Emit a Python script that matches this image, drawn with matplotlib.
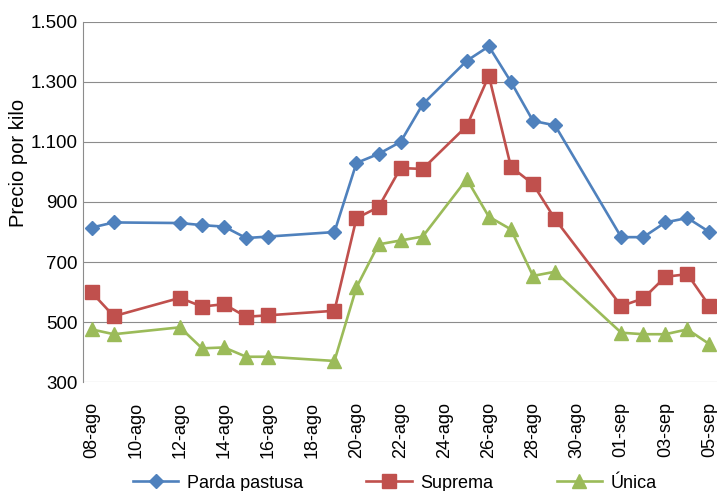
import matplotlib
matplotlib.use('Agg')
import matplotlib.pyplot as plt
import matplotlib.dates as mdates
from datetime import date, timedelta

plt.rcParams['font.family'] = ['Liberation Sans', 'DejaVu Sans']

# fechas de cada observacion (dias habiles)
fechas = [date(2014, 8, 8), date(2014, 8, 9),
          date(2014, 8, 12), date(2014, 8, 13), date(2014, 8, 14), date(2014, 8, 15), date(2014, 8, 16),
          date(2014, 8, 19), date(2014, 8, 20), date(2014, 8, 21), date(2014, 8, 22), date(2014, 8, 23),
          date(2014, 8, 25), date(2014, 8, 26), date(2014, 8, 27), date(2014, 8, 28), date(2014, 8, 29),
          date(2014, 9, 1), date(2014, 9, 2), date(2014, 9, 3), date(2014, 9, 4), date(2014, 9, 5)]

parda = [815, 832, 830, 823, 818, 780, 785, 800, 1030, 1060, 1100,
         1225, 1370, 1418, 1300, 1170, 1155, 783, 783, 832, 847, 800]
suprema = [599, 520, 581, 552, 560, 518, 523, 538, 846, 883, 1013,
           1010, 1153, 1320, 1017, 960, 843, 554, 579, 651, 660, 554]
unica = [476, 460, 483, 413, 416, 385, 385, 371, 616, 759, 772,
         785, 976, 851, 809, 654, 668, 465, 460, 460, 476, 427]

meses = {8: 'ago', 9: 'sep'}
tick_fechas = [date(2014, 8, 8) + timedelta(days=2 * i) for i in range(15)]
y_ticks = [300, 500, 700, 900, 1100, 1300, 1500]

azul = '#4F81BD'
rojo = '#C0504D'
verde = '#9BBB59'
gris = '#8C8C8C'

fig = plt.figure(figsize=(7.17, 4.91), dpi=100)
ax = fig.add_axes([82.7 / 717, 1 - 382.3 / 491, 637.8 / 717, 360.6 / 491])

ax.plot(fechas, parda, color=azul, lw=1.9, marker='D', ms=7.2, mec=azul, label='Parda pastusa', zorder=3)
ax.plot(fechas, suprema, color=rojo, lw=1.9, marker='s', ms=9.6, mec=rojo, label='Suprema', zorder=3)
ax.plot(fechas, unica, color=verde, lw=1.9, marker='^', ms=10, mec=verde, label='Única', zorder=3)

x0 = mdates.date2num(date(2014, 8, 8)) - 0.41
x1 = mdates.date2num(date(2014, 9, 5)) + 0.5
ax.set_xlim(x0, x1)
ax.set_ylim(300, 1500)

ax.set_xticks(tick_fechas)
ax.set_xticklabels([f'{d.day:02d}-{meses[d.month]}' for d in tick_fechas], rotation=90)
ax.set_yticks(y_ticks)
ax.set_yticklabels([f'{v:,}'.replace(',', '.') for v in y_ticks])
ax.tick_params(axis='x', length=0, pad=14, labelsize=13)
ax.tick_params(axis='y', length=0, pad=3.6, labelsize=13.5)

ax.grid(axis='y', color=gris, lw=0.8)
ax.set_axisbelow(True)
for s in ['top', 'right', 'bottom']:
    ax.spines[s].set_visible(False)
ax.spines['left'].set_color(gris)
ax.spines['left'].set_linewidth(0.8)

ax.set_ylabel('Precio por kilo', fontsize=14.5, va='center')
ax.yaxis.set_label_coords(-0.1014, 0.608)

ax.legend(loc='center', bbox_to_anchor=(395 / 717, 1 - 483 / 491), bbox_transform=fig.transFigure,
          ncol=3, frameon=False, fontsize=13, handlelength=2.5, handletextpad=0.5,
          columnspacing=3.5, borderaxespad=0)

fig.savefig('out.png', dpi=100)
